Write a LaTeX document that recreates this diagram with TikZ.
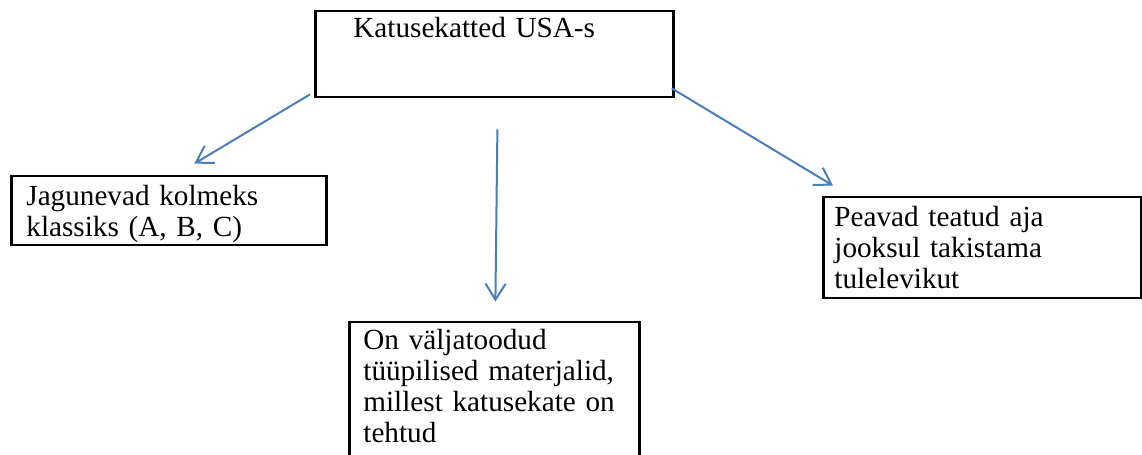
\documentclass[tikz,border=0pt]{standalone}
\usepackage{fontspec}
\setmainfont{Liberation Serif}
\usetikzlibrary{arrows.meta, positioning}
\definecolor{cLink}{RGB}{74,126,187}
\hyphenpenalty=10000
\tikzset{
  basebox/.style={rectangle, draw=black, line width=1.4pt, align=left,
                  inner ysep=0pt, anchor=base west,
                  font=\fontsize{14.6}{15.5}\selectfont},
  link/.style={-{Straight Barb[length=8pt,width=10pt]}, line width=1pt,
               color=cLink}
}
\begin{document}
\begin{tikzpicture}[x=0.5pt, y=-0.5pt]
  \useasboundingbox (0,0) rectangle (1142,455);
  \clip (0,0) rectangle (1142,455);

  \node[basebox, inner xsep=19pt, text width=141pt, text height=13pt,
        text depth=30pt] (roof) at (314,37) {Katusekatted USA-s};
  \node[basebox, inner xsep=7.5pt, text width=142.5pt, text height=14.5pt,
        text depth=20pt] (classes) at (10,205)
      {Jagunevad kolmeks\\klassiks (A, B, C)};
  \node[basebox, inner xsep=7pt, text width=131pt, text height=13.5pt,
        text depth=60pt] (materials) at (348,349)
      {On väljatoodud\\tüüpilised materjalid,\\millest katusekate on\\tehtud};
  \node[basebox, inner xsep=5.5pt, text width=148pt, text height=14.5pt,
        text depth=36pt] (fire) at (822,226)
      {Peavad teatud aja\\jooksul takistama\\tulelevikut};

  \draw[link] ([shift={(-4,-4)}]roof.south west) -- ([shift={(25.5,-11)}]classes.north);
  \draw[link] ([shift={(3,31)}]roof.south) -- ([shift={(1,-19)}]materials.north);
  \draw[link] ([shift={(-3,-10)}]roof.south east) -- ([shift={(11,-10)}]fire.north west);
\end{tikzpicture}
\end{document}
